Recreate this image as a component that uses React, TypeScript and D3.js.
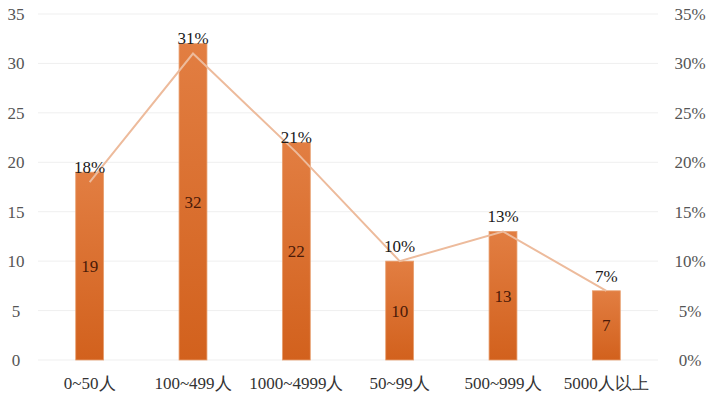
import React from "react";
import * as d3 from "d3";

const categories = ["0~50人", "100~499人", "1000~4999人", "50~99人", "500~999人", "5000人以上"];
const counts = [19, 32, 22, 10, 13, 7];
const percents = [18, 31, 21, 10, 13, 7];
const leftTicks = [0, 5, 10, 15, 20, 25, 30, 35];
const rightTicks = [0, 5, 10, 15, 20, 25, 30, 35];

const W = 710, H = 400;
const M = { left: 38, right: 52, top: 14, bottom: 40 };
const FONT = "Liberation Serif";

export default function App() {
  const x = d3.scaleBand<string>().domain(categories).range([M.left, W - M.right]).paddingInner(0.73).paddingOuter(0.365);
  const y = d3.scaleLinear().domain([0, 35]).range([H - M.bottom, M.top]);
  const y2 = d3.scaleLinear().domain([0, 35]).range([H - M.bottom, M.top]);
  const cx = (c: string) => (x(c) ?? 0) + x.bandwidth() / 2;
  const line = d3.line<number>().x((_, i) => cx(categories[i])).y((d) => y2(d));
  return (
    <svg width={W} height={H} style={{ position: "absolute", left: 0, top: 0, background: "#fff" }}>
      <defs>
        <linearGradient id="bg" x1="0" y1="0" x2="0" y2="1">
          <stop offset="0%" stopColor="#E27E42" />
          <stop offset="100%" stopColor="#D2611D" />
        </linearGradient>
      </defs>
      {leftTicks.map((t) => (
        <line key={t} x1={M.left} x2={W - M.right} y1={y(t)} y2={y(t)} stroke="#EFEFEF" strokeWidth={1} />
      ))}
      {leftTicks.map((t) => (
        <text key={"l" + t} x={16} y={y(t)} dy="0.35em" textAnchor="middle" fontSize={17} fill="#555" fontFamily={FONT}>{t}</text>
      ))}
      {rightTicks.map((t) => (
        <text key={"r" + t} x={690} y={y2(t)} dy="0.35em" textAnchor="middle" fontSize={17} fill="#555" fontFamily={FONT}>{t}%</text>
      ))}
      {categories.map((c, i) => (
        <rect key={c} x={x(c)} y={y(counts[i])} width={x.bandwidth()} height={y(0) - y(counts[i])} fill="url(#bg)" stroke="#E8A070" strokeWidth={0.8} />
      ))}
      <path d={line(percents) ?? ""} fill="none" stroke="#EDBB9C" strokeWidth={2} />
      {categories.map((c, i) => (
        <text key={"v" + c} x={cx(c)} y={(y(counts[i]) + y(0)) / 2} dy="0.35em" textAnchor="middle" fontSize={17} fill="#4A1A08" fontFamily={FONT}>{counts[i]}</text>
      ))}
      {categories.map((c, i) => (
        <text key={"p" + c} x={cx(c)} y={y2(percents[i]) - 15} dy="0.35em" textAnchor="middle" fontSize={17} fill="#1a1a1a" fontFamily={FONT}>{percents[i]}%</text>
      ))}
      {categories.map((c) => (
        <text key={"c" + c} x={cx(c)} y={383} dy="0.35em" textAnchor="middle" fontSize={17} fill="#333" fontFamily={FONT}>{c}</text>
      ))}
    </svg>
  );
}
